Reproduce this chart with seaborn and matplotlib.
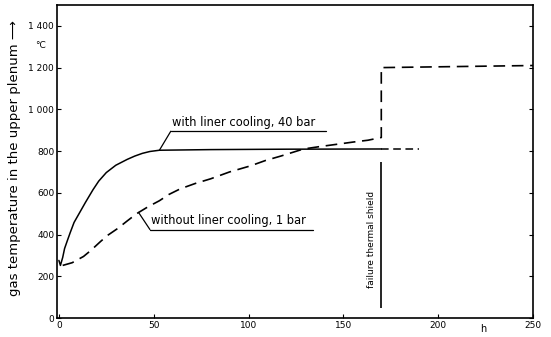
import matplotlib
matplotlib.use("Agg")
import matplotlib.pyplot as plt
import seaborn as sns
import pandas as pd

# curve "with liner cooling, 40 bar" (solid, then dashed after failure)
with_t = [0, 0.8, 2, 3, 4.5, 6, 8, 11, 14, 18, 21, 25, 30, 36, 40, 44, 48, 53, 80, 120, 170]
with_T = [276, 252, 290, 333, 372, 410, 458, 506, 554, 615, 656, 697, 732, 760, 776, 789, 798,
          804, 807, 809, 810]
with_tail_t = [170, 190]
with_tail_T = [810, 810]

# curve "without liner cooling, 1 bar" (dashed), jump at failure
without_t = [2, 7, 13, 17, 22, 26, 31, 36, 41, 47, 53, 58, 64, 72, 80, 90, 101, 109, 117,
             123, 129, 138, 147, 155, 163, 170, 170, 250]
without_T = [252, 265, 295, 325, 367, 398, 429, 465, 500, 533, 562, 592, 619, 645, 667, 700,
             729, 755, 776, 793, 810, 822, 833, 843, 852, 865, 1200, 1210]

# failure thermal shield marker
fail_t = 170
fail_range = [48, 748]

xticks = [0, 50, 100, 150, 200, 250]
xtick_labels = ["0", "50", "100", "150", "200", "250"]
yticks = [0, 200, 400, 600, 800, 1000, 1200, 1400]
ytick_labels = ["0", "200", "400", "600", "800", "1 000", "1 200", "1 400"]

sns.set_style("ticks")
plt.rcParams["font.family"] = ["DejaVu Sans"]
plt.rcParams["text.color"] = "black"

fig = plt.figure(figsize=(5.51, 3.37), dpi=100)
ax = fig.add_axes([57 / 551, 19 / 337, (533 - 57) / 551, (318 - 5) / 337])

df_with = pd.DataFrame({"t": with_t, "T": with_T})
df_tail = pd.DataFrame({"t": with_tail_t, "T": with_tail_T})
df_without = pd.DataFrame({"t": without_t, "T": without_T})

sns.lineplot(data=df_with, x="t", y="T", ax=ax, color="black", lw=1.1,
             estimator=None, sort=False)
sns.lineplot(data=df_tail, x="t", y="T", ax=ax, color="black", lw=1.1,
             estimator=None, sort=False)
ax.lines[-1].set_dashes([5, 3])
sns.lineplot(data=df_without, x="t", y="T", ax=ax, color="black", lw=1.2,
             estimator=None, sort=False)
ax.lines[-1].set_dashes([7, 4])

ax.vlines(fail_t, fail_range[0], fail_range[1], color="black", lw=1.2)
ax.text(fail_t - 5, sum(fail_range) / 2 - 20, "failure thermal shield",
        rotation=90, ha="center", va="center", fontsize=6.5)

# labels with leader lines and underline
def leader(xy, xt, yt, x_end, label):
    ax.annotate("", xy=xy, xytext=(xt, yt),
                arrowprops=dict(arrowstyle="-", color="black", lw=0.9,
                                shrinkA=0, shrinkB=0))
    ax.plot([xt, x_end], [yt, yt], color="black", lw=0.9)
    ax.text(xt + 0.5, yt + 12, label, fontsize=8.3, ha="left", va="bottom")

leader((with_t[17], with_T[17]), 59, 895, 141, "with liner cooling, 40 bar")
leader((42, 506), 48, 424, 134, "without liner cooling, 1 bar")

ax.set_xlim(-1, 250)
ax.set_ylim(0, 1500)
ax.set_xticks(xticks)
ax.set_xticklabels(xtick_labels)
ax.set_yticks(yticks)
ax.set_yticklabels(ytick_labels)
ax.tick_params(direction="in", length=3, width=0.8, labelsize=6.5, pad=2,
               right=True, top=False, colors="black")
for s in ax.spines.values():
    s.set_linewidth(1.2)
    s.set_color("black")
    s.set_visible(True)

ax.set_xlabel("")
ax.set_ylabel("gas temperature in the upper plenum \u27f6", fontsize=9.5, color="black")
ax.yaxis.set_label_coords(-0.075, 0.51)
ax.text(-0.035, 0.87, "\u00b0C", transform=ax.transAxes, fontsize=6.5,
        ha="center", va="center")
ax.text(224, -55, "h", fontsize=7, ha="center", va="center")

fig.savefig("out.png", dpi=100, facecolor="white")
